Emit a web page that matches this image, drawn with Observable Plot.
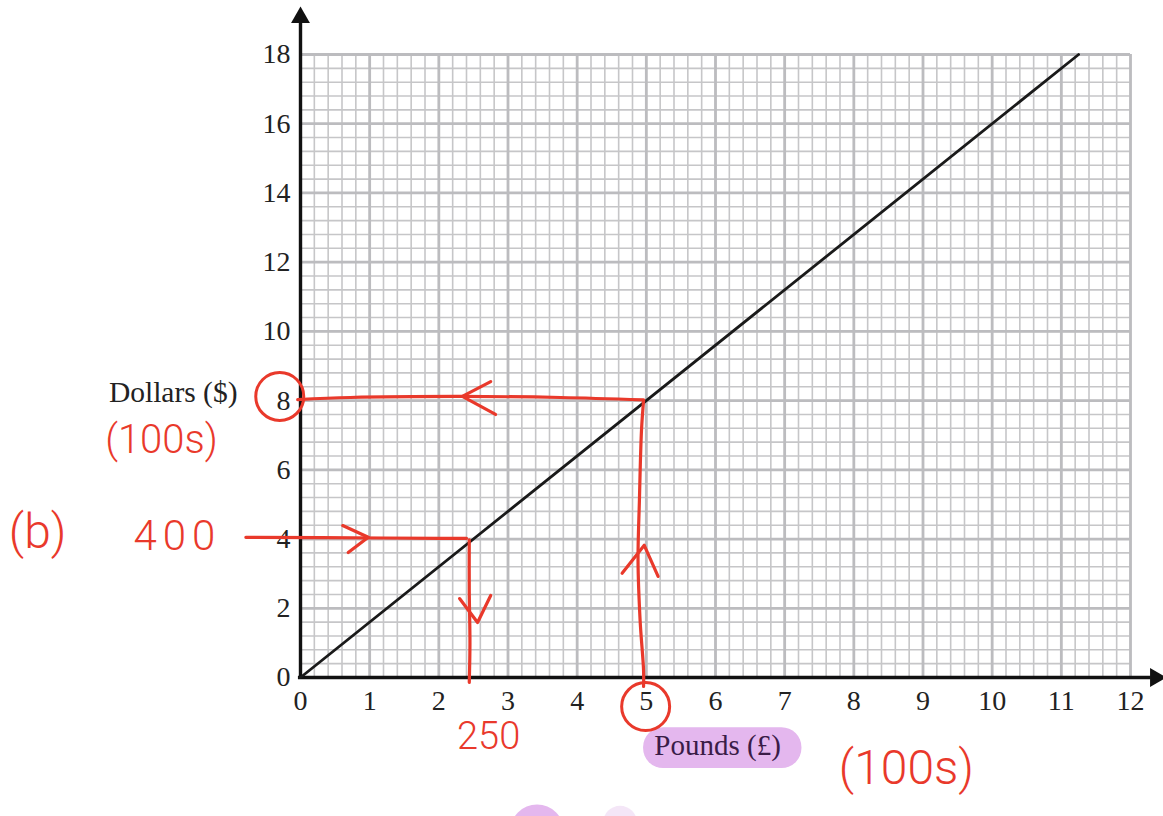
<!DOCTYPE html>
<html>
<head>
<meta charset="utf-8">
<script src="https://cdn.jsdelivr.net/npm/d3@7"></script>
<script src="https://cdn.jsdelivr.net/npm/@observablehq/plot@0.6"></script>
<style>
  html, body { margin: 0; padding: 0; background: white; }
  #chart svg { display: block; }
</style>
</head>
<body>
<div id="chart"></div>
<script>
// ---- Chart data ----
const xTicks = [0, 1, 2, 3, 4, 5, 6, 7, 8, 9, 10, 11, 12];
const yTicks = [0, 2, 4, 6, 8, 10, 12, 14, 16, 18];
const pounds = [0, 11.25];
const dollars = [0, 18];

// ---- Red handwritten annotation strokes (data units) ----
const h8X = [-0.04, 0.72, 2.31, 3.76, 4.96];
const h8Y = [8.03, 8.09, 8.12, 8.09, 8.02];
const head8X = [2.75, 2.34, 2.82];
const head8Y = [8.55, 8.12, 7.60];
const v5X = [4.96, 4.93, 4.90, 4.88, 4.91, 4.96, 4.96];
const v5Y = [8.0, 7.14, 5.12, 3.38, 1.65, 0.2, -0.26];
const head5X = [4.65, 4.97, 5.17];
const head5Y = [3.01, 3.82, 2.92];
const h4X = [-0.79, 1.2, 2.02, 2.40];
const h4Y = [4.05, 4.03, 4.02, 4.02];
const head4X = [0.61, 0.98, 0.69];
const head4Y = [4.39, 4.05, 3.61];
const v25X = [2.44, 2.44, 2.45, 2.44];
const v25Y = [3.98, 2.5, 1.0, -0.14];
const head25X = [2.30, 2.56, 2.75];
const head25Y = [2.28, 1.59, 2.37];
const circleX = [-0.30, 4.99];
const circleY = [8.12, -0.84];
const noteText = ["(100s)", "(b)", "400", "250", "(100s)"];
const noteX = [-2.01, -3.80, -1.78, 2.72, 8.76];
const noteY = [6.85, 4.19, 4.08, -1.72, -2.63];
const noteSize = [40, 48, 42, 38, 48];

const zip = (xs, ys) => xs.map((x, i) => ({x, y: ys[i]}));
const RED = "#e9392b";
const LAV = "#e4b7ee";

const minorX = d3.range(0, 12.0001, 0.2);
const minorY = d3.range(0, 18.0001, 0.4);

const shafts = [zip(h8X, h8Y), zip(v5X, v5Y), zip(h4X, h4Y), zip(v25X, v25Y)];
const heads = [zip(head8X, head8Y), zip(head5X, head5Y), zip(head4X, head4Y), zip(head25X, head25Y)];

const redBase = {x: "x", y: "y", stroke: RED, strokeWidth: 3.2, strokeLinecap: "round", strokeLinejoin: "round"};

const plot = Plot.plot({
  width: 1163,
  height: 816,
  marginLeft: 300,
  marginRight: 33,
  marginTop: 54,
  marginBottom: 139,
  x: {domain: [0, 12], axis: null},
  y: {domain: [0, 18], axis: null},
  style: {fontFamily: "'Liberation Serif', 'Times New Roman', serif", background: "white", overflow: "visible"},
  marks: [
    // lavender highlights
    Plot.rect([{x1: 4.96, x2: 7.25, y1: -1.45, y2: -2.63}], {x1: "x1", x2: "x2", y1: "y1", y2: "y2", fill: LAV, rx: 20}),
    Plot.dot([{x: 3.42, y: -4.45}], {x: "x", y: "y", r: 27, fill: LAV}),
    Plot.dot([{x: 4.62, y: -4.2}], {x: "x", y: "y", r: 17, fill: "#f4e6f7"}),
    // graph paper grid
    Plot.ruleX(minorX, {y1: 0, y2: 18, stroke: "#c6c6c8", strokeWidth: 1.6}),
    Plot.ruleY(minorY, {x1: 0, x2: 12, stroke: "#c6c6c8", strokeWidth: 1.6}),
    Plot.ruleX(xTicks, {y1: 0, y2: 18, stroke: "#bcbcbf", strokeWidth: 2.8}),
    Plot.ruleY(yTicks, {x1: 0, x2: 12, stroke: "#bcbcbf", strokeWidth: 2.8}),
    // axes with arrowheads
    Plot.ruleX([0], {y1: -0.05, y2: 18.9, stroke: "#111", strokeWidth: 3.4}),
    Plot.ruleY([0], {x1: -0.03, x2: 12.3, stroke: "#111", strokeWidth: 3.4}),
    Plot.dot([{x: 0, y: 18}], {x: "x", y: "y", dy: -37, symbol: "triangle", r: 7, fill: "#111", stroke: "none"}),
    Plot.dot([{x: 12, y: 0}], {x: "x", y: "y", dx: 25, symbol: "triangle", r: 7, rotate: 90, fill: "#111", stroke: "none"}),
    // tick labels
    Plot.text(yTicks, {x: 0, y: d => d, text: d => String(d), textAnchor: "end", dx: -10, fontSize: 28, fill: "#222"}),
    Plot.text(xTicks, {x: d => d, y: 0, text: d => String(d), dy: 24, fontSize: 28, fill: "#222"}),
    // axis titles
    Plot.text(["Dollars ($)"], {x: 0, y: 8.24, text: d => d, textAnchor: "end", dx: -63, fontSize: 29.5, fill: "#222"}),
    Plot.text(["Pounds (£)"], {x: 6.03, y: -1.97, text: d => d, fontSize: 29, fill: "#3a1c47"}),
    // conversion line
    Plot.line(zip(pounds, dollars), {x: "x", y: "y", stroke: "#1a1a1a", strokeWidth: 2.8}),
    // red annotations
    ...shafts.map(s => Plot.line(s, {...redBase, curve: "catmull-rom"})),
    ...heads.map(s => Plot.line(s, redBase)),
    Plot.dot(zip(circleX, circleY), {x: "x", y: "y", r: 24, stroke: RED, strokeWidth: 3, fill: "none"}),
    Plot.text(noteText.map((t, i) => ({t, x: noteX[i], y: noteY[i], s: noteSize[i]})), {
      x: "x", y: "y", text: "t", fontSize: d => d.s, fill: RED,
      fontFamily: "Roboto, 'DejaVu Sans', sans-serif", fontWeight: 300
    })
  ]
});

document.getElementById("chart").appendChild(plot);
// widen the handwritten "400"
d3.select(plot).selectAll("text").filter(function() { return this.textContent === "400"; }).style("letter-spacing", "6px");
</script>
</body>
</html>
